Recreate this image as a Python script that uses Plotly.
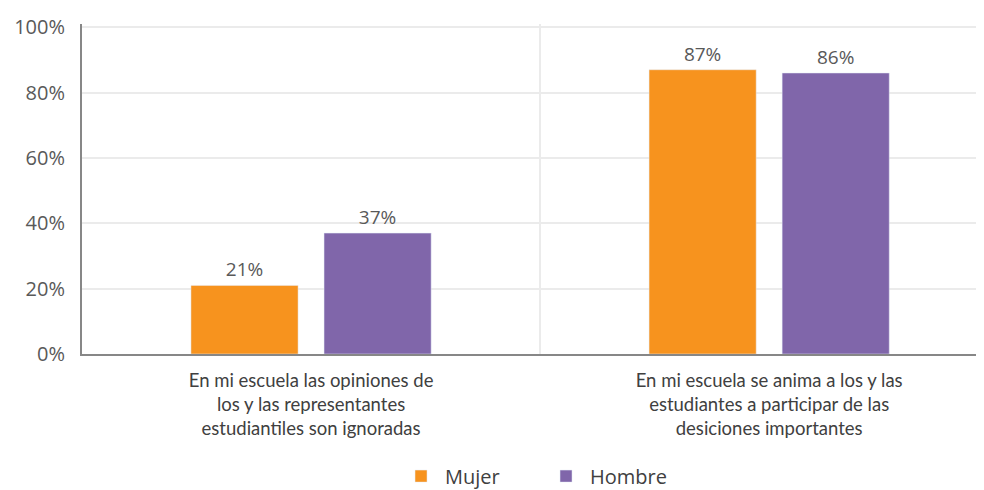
import plotly.graph_objects as go

categories = [
    "En mi escuela las opiniones de<br>los y las representantes<br>estudiantiles son ignoradas",
    "En mi escuela se anima a los y las<br>estudiantes a participar de las<br>desiciones importantes",
]
mujer = [21, 87]
hombre = [37, 86]
tick_vals = [0, 20, 40, 60, 80, 100]
tick_text = ["0%", "20%", "40%", "60%", "80%", "100%"]

fig = go.Figure()
fig.add_trace(go.Bar(
    name="Mujer", x=categories, y=mujer, marker_color="#F7931E",
    text=[f"{v}%" for v in mujer], textposition="outside",
    textfont=dict(family="Open Sans", size=19, color="#595959"), cliponaxis=False,
))
fig.add_trace(go.Bar(
    name="Hombre", x=categories, y=hombre, marker_color="#8066AA",
    text=[f"{v}%" for v in hombre], textposition="outside",
    textfont=dict(family="Open Sans", size=19, color="#595959"), cliponaxis=False,
))

fig.update_layout(
    width=976, height=482,
    margin=dict(l=74, r=0, t=16, b=135.5, autoexpand=False),
    paper_bgcolor="white", plot_bgcolor="white",
    barmode="group", bargap=0.419, bargroupgap=0.195,
    showlegend=True,
    legend=dict(orientation="h", x=0.51, xanchor="center", y=-0.37, yanchor="middle",
                font=dict(family="Open Sans", size=20, color="#404040"),
                itemwidth=38, entrywidth=92, traceorder="normal"),
    xaxis=dict(
        range=[-0.5, 1.469], tickson="boundaries", showgrid=True, gridcolor="#EBEBEB",
        gridwidth=2, showline=True, linecolor="#878787", linewidth=2, ticks="",
        automargin=False, ticklabelstandoff=9,
        tickfont=dict(family="Lato", size=18.5, color="#404040"),
    ),
    yaxis=dict(
        range=[0, 101], tickvals=tick_vals, ticktext=tick_text, showgrid=True,
        gridcolor="#EBEBEB", gridwidth=2, showline=True, linecolor="#878787", linewidth=2,
        zeroline=False, ticks="", ticklabelstandoff=11, automargin=False,
        tickfont=dict(family="Open Sans", size=20, color="#595959"),
    ),
)

fig.write_html("out.html")
